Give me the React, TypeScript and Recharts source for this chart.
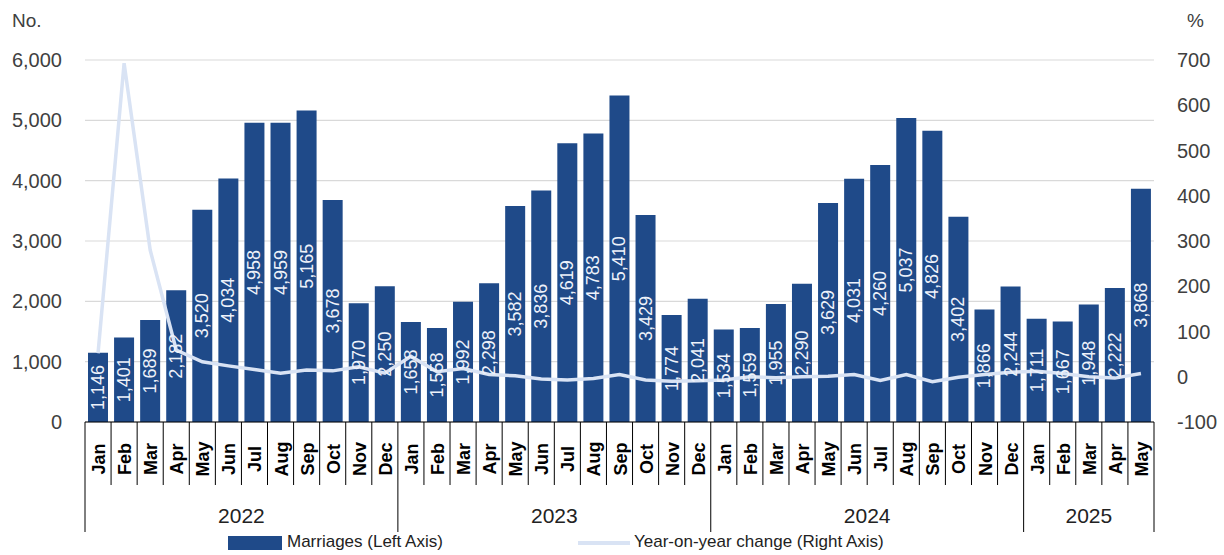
import React from "react";
import {
  ComposedChart,
  Bar,
  Line,
  XAxis,
  YAxis,
  CartesianGrid,
  Legend,
  LabelList,
} from "recharts";

const monthLabels = [
  "Jan","Feb","Mar","Apr","May","Jun","Jul","Aug","Sep","Oct","Nov","Dec",
  "Jan","Feb","Mar","Apr","May","Jun","Jul","Aug","Sep","Oct","Nov","Dec",
  "Jan","Feb","Mar","Apr","May","Jun","Jul","Aug","Sep","Oct","Nov","Dec",
  "Jan","Feb","Mar","Apr","May",
];
const yearOfMonth = [
  2022,2022,2022,2022,2022,2022,2022,2022,2022,2022,2022,2022,
  2023,2023,2023,2023,2023,2023,2023,2023,2023,2023,2023,2023,
  2024,2024,2024,2024,2024,2024,2024,2024,2024,2024,2024,2024,
  2025,2025,2025,2025,2025,
];
const marriages = [
  1146,1401,1689,2182,3520,4034,4958,4959,5165,3678,1970,2250,
  1658,1558,1992,2298,3582,3836,4619,4783,5410,3429,1774,2041,
  1534,1559,1955,2290,3629,4031,4260,5037,4826,3402,1866,2244,
  1711,1667,1948,2222,3868,
];
const yoyChange = [
  52,693,280,59,33,24,16,8,15,13,22,8,
  45,11,18,5,2,-5,-7,-4,5,-7,-10,-9,
  -7,0,-2,0,1,5,-8,5,-11,-1,5,10,
  12,7,0,-3,7,
];
const leftTicks = [0,1000,2000,3000,4000,5000,6000];
const rightTicks = [-100,0,100,200,300,400,500,600,700];

const data = monthLabels.map((m, i) => ({
  key: `${yearOfMonth[i]}-${m}`,
  month: m,
  year: yearOfMonth[i],
  marriages: marriages[i],
  yoy: yoyChange[i],
}));
const keys = data.map((d) => d.key);

const W = 1224;
const H = 555;
const LEFT_W = 85;
const RIGHT_W = 70;
const PLOT_W = W - LEFT_W - RIGHT_W;
const BW = PLOT_W / data.length;
const BAR = "#1f4a89";
const LINE = "#d9e3f4";
const TEXT = "#404040";

const fmt = (v: number) => v.toLocaleString("en-US");

const MonthTick = (props: any) => {
  const { x, y, payload } = props;
  const i = keys.indexOf(payload.value);
  if (i < 0) return null;
  const left = x - BW / 2;
  const isYearStart = i === 0 || yearOfMonth[i] !== yearOfMonth[i - 1];
  const isLast = i === data.length - 1;
  let yearLabel: React.ReactNode = null;
  if (isYearStart) {
    const n = yearOfMonth.filter((yy) => yy === yearOfMonth[i]).length;
    yearLabel = (
      <text
        x={left + (n * BW) / 2}
        y={y + 101}
        textAnchor="middle"
        fontSize={21}
        fill="#222"
        fontFamily="Liberation Sans, Arial, sans-serif"
      >
        {yearOfMonth[i]}
      </text>
    );
  }
  return (
    <g>
      <line
        x1={left}
        x2={left}
        y1={y}
        y2={isYearStart ? y + 110 : y + 63}
        stroke="#000"
        strokeWidth={1}
      />
      {isLast && (
        <line x1={x + BW / 2} x2={x + BW / 2} y1={y} y2={y + 110} stroke="#000" strokeWidth={1} />
      )}
      <text
        transform={`translate(${x + 1},${y + 37}) rotate(-90)`}
        textAnchor="middle"
        dominantBaseline="central"
        fontSize={18}
        fontWeight="bold"
        fill="#000"
        fontFamily="Liberation Sans, Arial, sans-serif"
      >
        {monthLabels[i]}
      </text>
      {yearLabel}
    </g>
  );
};

const BarValueLabel = (props: any) => {
  const { x, y, width, height, value } = props;
  const cx = x + width / 2;
  const cy = y + height / 2;
  return (
    <text
      transform={`translate(${cx},${cy}) rotate(-90)`}
      textAnchor="middle"
      dominantBaseline="central"
      fontSize={18}
      fill="#eef2fa"
      fontFamily="Liberation Sans, Arial, sans-serif"
    >
      {fmt(value)}
    </text>
  );
};

const LegendContent = () => (
  <div
    style={{
      position: "relative",
      width: W,
      height: 24,
      fontFamily: "Liberation Sans, Arial, sans-serif",
      fontSize: 17,
      color: "#222",
    }}
  >
    <div style={{ position: "absolute", left: 228, top: 5, width: 54, height: 14, background: BAR }} />
    <div style={{ position: "absolute", left: 287, top: 1, whiteSpace: "nowrap" }}>
      Marriages (Left Axis)
    </div>
    <div style={{ position: "absolute", left: 578, top: 10, width: 52, height: 4, background: LINE }} />
    <div style={{ position: "absolute", left: 634, top: 1, whiteSpace: "nowrap" }}>
      Year-on-year change (Right Axis)
    </div>
  </div>
);

export default function App() {
  return (
    <div style={{ position: "absolute", left: 0, top: 0, width: W, height: H, background: "#fff" }}>
      <ComposedChart
        width={W}
        height={H}
        data={data}
        margin={{ top: 60, right: 0, bottom: 0, left: 0 }}
      >
        <CartesianGrid yAxisId="left" vertical={false} stroke="#d9d9d9" strokeWidth={1.2} />
        <XAxis
          dataKey="key"
          xAxisId={0}
          interval={0}
          height={109}
          tickLine={false}
          tickSize={0}
          tickMargin={0}
          axisLine={{ stroke: "#000", strokeWidth: 1 }}
          tick={<MonthTick />}
        />
        <YAxis
          yAxisId="left"
          domain={[0, 6000]}
          ticks={leftTicks}
          width={LEFT_W}
          axisLine={false}
          tickLine={false}
          tickMargin={17}
          tickFormatter={fmt}
          tick={{ fontSize: 20, fill: TEXT, fontFamily: "Liberation Sans, Arial, sans-serif" }}
          label={{
            content: () => (
              <text x={12} y={27} fontSize={19} fill={TEXT} fontFamily="Liberation Sans, Arial, sans-serif">
                No.
              </text>
            ),
          }}
        />
        <YAxis
          yAxisId="right"
          orientation="right"
          domain={[-100, 700]}
          ticks={rightTicks}
          width={RIGHT_W}
          axisLine={false}
          tickLine={false}
          tickMargin={17}
          tick={{ fontSize: 20, fill: TEXT, fontFamily: "Liberation Sans, Arial, sans-serif", textAnchor: "start" }}
          label={{
            content: () => (
              <text x={1187} y={27} fontSize={19} fill={TEXT} fontFamily="Liberation Sans, Arial, sans-serif">
                %
              </text>
            ),
          }}
        />
        <Legend verticalAlign="bottom" content={<LegendContent />} wrapperStyle={{ left: 0, width: W }} />
        <Bar
          yAxisId="left"
          dataKey="marriages"
          name="Marriages (Left Axis)"
          fill={BAR}
          barSize={20}
          isAnimationActive={false}
        >
          <LabelList dataKey="marriages" content={<BarValueLabel />} />
        </Bar>
        <Line
          yAxisId="right"
          type="linear"
          dataKey="yoy"
          name="Year-on-year change (Right Axis)"
          stroke={LINE}
          strokeWidth={3.5}
          dot={false}
          isAnimationActive={false}
        />
      </ComposedChart>
    </div>
  );
}
